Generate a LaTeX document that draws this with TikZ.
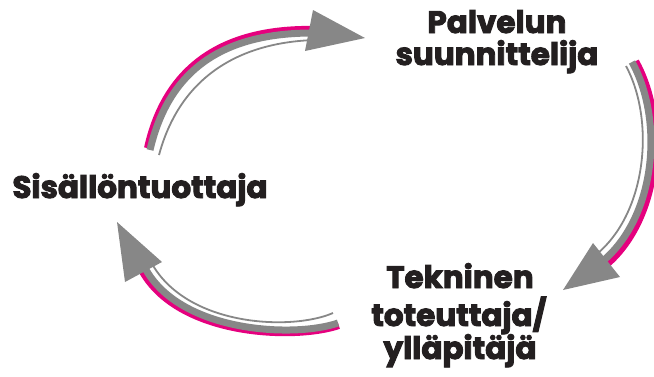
\documentclass[tikz,border=0pt]{standalone}
\usepackage{fontspec}
\newfontfamily\heavy[BoldFeatures={FakeBold=3}]{Poppins}
\definecolor{txt}{HTML}{231F20}
\definecolor{arrgray}{HTML}{878787}
\definecolor{arrpink}{HTML}{E5007E}
\begin{document}
\begin{tikzpicture}[x=1pt,y=-1pt,
  lbl/.style={inner sep=0pt,anchor=base,text=txt,font=\heavy\bfseries\fontsize{31}{36}\selectfont},
  pinkband/.style={draw=arrpink,line width=6pt},
  grayband/.style={draw=arrgray,line width=7pt},
  thinband/.style={draw=arrgray,line width=1.8pt},
  head/.style={fill=arrgray}]
\path[use as bounding box] (0,0) rectangle (654,376);
% labels
\node[lbl] (pal1) at (497,33) {Palvelun};
\node[lbl] (pal2) at (497,65) {suunnittelija};
\node[lbl] (sis) at (140,198) {Sisällöntuottaja};
\node[lbl] (tek1) at (460,288) {Tekninen};
\node[lbl] (tek2) at (459,326) {toteuttaja/};
\node[lbl] (tek3) at (460,359) {ylläpitäjä};
% top arrow: Sisällöntuottaja -> Palvelun suunnittelija
\draw[pinkband] (147,148) .. controls (168,53) and (240,27) .. (317,29);
\draw[grayband] (150,150) .. controls (172,55) and (242,32) .. (318,33);
\draw[thinband] (159,155) .. controls (182,70) and (248,42) .. (315,40);
\fill[head] (313,10) -- (365,38) -- (305,51) -- cycle;
% right arrow: Palvelun suunnittelija -> Tekninen
\draw[pinkband] (636,61) .. controls (669,120) and (661,217) .. (608,264);
\draw[grayband] (632,62) .. controls (664,120) and (656,215) .. (604,260);
\draw[thinband] (626,66) .. controls (655,120) and (647,211) .. (598,253);
\fill[head] (593,243) -- (620,277) -- (563,290) -- cycle;
% bottom arrow: Tekninen -> Sisällöntuottaja
\draw[pinkband] (339,326) .. controls (295,341) and (177,337) .. (141,270);
\draw[grayband] (338,323) .. controls (295,338) and (180,333) .. (145,268);
\draw[thinband] (333,313) .. controls (292,331) and (186,327) .. (151,262);
\fill[head] (162,262) -- (125,282) -- (117,222) -- cycle;
\end{tikzpicture}
\end{document}
